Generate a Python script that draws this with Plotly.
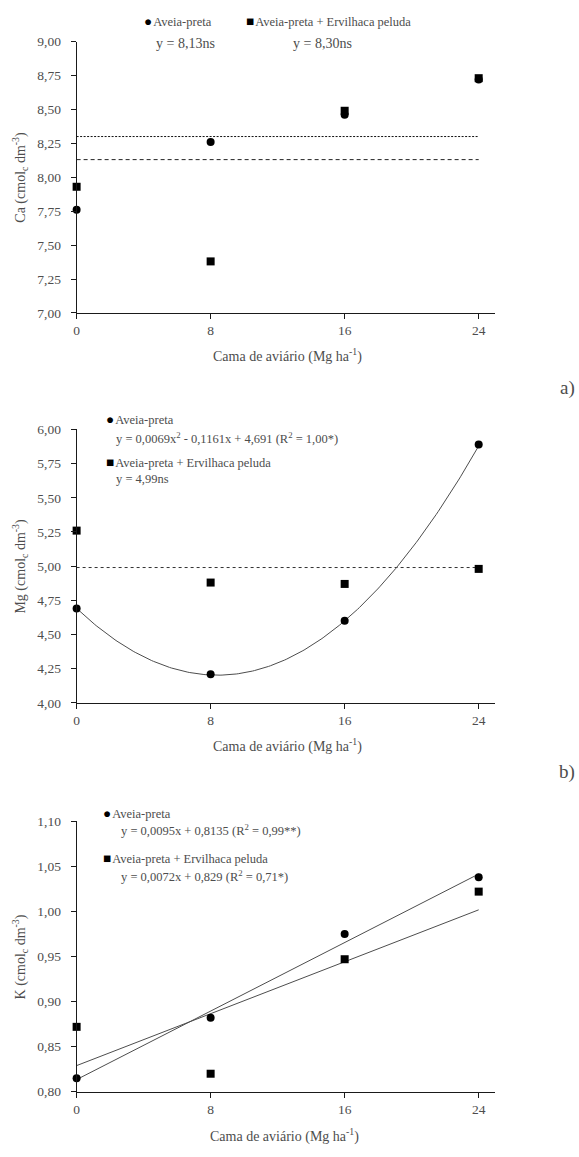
import numpy as np
import plotly.graph_objects as go

W, H = 579, 1157

doses = [0, 8, 16, 24]
x_ticks = [0, 8, 16, 24]

# Panel a - Ca
ca_aveia = [7.76, 8.26, 8.46, 8.72]
ca_consorcio = [7.93, 7.38, 8.49, 8.73]
ca_mean_aveia = 8.13
ca_mean_consorcio = 8.30
ca_ticks = [7.00, 7.25, 7.50, 7.75, 8.00, 8.25, 8.50, 8.75, 9.00]

# Panel b - Mg
mg_aveia = [4.69, 4.21, 4.60, 5.89]
mg_consorcio = [5.26, 4.88, 4.87, 4.98]
mg_coef_aveia = [0.0069, -0.1161, 4.691]
mg_mean_consorcio = 4.99
mg_ticks = [4.00, 4.25, 4.50, 4.75, 5.00, 5.25, 5.50, 5.75, 6.00]

# Panel c - K
k_aveia = [0.815, 0.882, 0.975, 1.038]
k_consorcio = [0.872, 0.820, 0.947, 1.022]
k_coef_aveia = [0.0095, 0.8135]
k_coef_consorcio = [0.0072, 0.829]
k_ticks = [0.80, 0.85, 0.90, 0.95, 1.00, 1.05, 1.10]

FONT = "Liberation Serif, DejaVu Serif, serif"
TXT = "#4d4d4d"
AX = "#1a1a1a"


def fmt(v, d=2):
    return f"{v:.{d}f}".replace(".", ",")


def px_x(p):
    return p / W


def px_y(p):
    return 1 - p / H


x_dom = [px_x(74), px_x(495)]
panels = [
    (px_y(310), px_y(35)),
    (px_y(705), px_y(428)),
    (px_y(1099), px_y(825)),
]

fig = go.Figure()

mk_c = dict(symbol="circle", size=8, color="black")
mk_s = dict(symbol="square", size=8, color="black")
fit_line = dict(color="#4d4d4d", width=1)


def pts(x, y, mk, ax):
    return go.Scatter(x=x, y=y, mode="markers", marker=mk, cliponaxis=False,
                      xaxis="x" + ax, yaxis="y" + ax)


# Panel a
fig.add_trace(go.Scatter(x=[0, 24], y=[ca_mean_consorcio] * 2, mode="lines",
                         line=dict(color="#111", width=1, dash="2px,1.5px"), xaxis="x", yaxis="y"))
fig.add_trace(go.Scatter(x=[0, 24], y=[ca_mean_aveia] * 2, mode="lines",
                         line=dict(color="#222", width=1, dash="4px,3px"), xaxis="x", yaxis="y"))
fig.add_trace(pts(doses, ca_aveia, mk_c, ""))
fig.add_trace(pts(doses, ca_consorcio, mk_s, ""))

# Panel b
xs = np.linspace(0, 24, 200)
a2, a1, a0 = mg_coef_aveia
fig.add_trace(go.Scatter(x=[0, 24], y=[mg_mean_consorcio] * 2, mode="lines",
                         line=dict(color="#333", width=1, dash="3px,3px"), xaxis="x2", yaxis="y2"))
fig.add_trace(go.Scatter(x=xs, y=a2 * xs ** 2 + a1 * xs + a0, mode="lines",
                         line=fit_line, xaxis="x2", yaxis="y2"))
fig.add_trace(pts(doses, mg_aveia, mk_c, "2"))
fig.add_trace(pts(doses, mg_consorcio, mk_s, "2"))

# Panel c
xl = np.array([0, 24])
fig.add_trace(go.Scatter(x=xl, y=k_coef_aveia[0] * xl + k_coef_aveia[1], mode="lines",
                         line=fit_line, xaxis="x3", yaxis="y3"))
fig.add_trace(go.Scatter(x=xl, y=k_coef_consorcio[0] * xl + k_coef_consorcio[1], mode="lines",
                         line=fit_line, xaxis="x3", yaxis="y3"))
fig.add_trace(pts(doses, k_aveia, mk_c, "3"))
fig.add_trace(pts(doses, k_consorcio, mk_s, "3"))

tickfont = dict(family=FONT, size=13.5, color=TXT)


def xaxis(anchor):
    return dict(domain=x_dom, anchor=anchor, range=[0, 25], tickvals=x_ticks,
                ticktext=[str(t) for t in x_ticks], showgrid=False, zeroline=False,
                showline=True, linecolor=AX, linewidth=1, ticks="outside", ticklen=5,
                tickcolor=AX, tickfont=tickfont, fixedrange=True)


def yaxis(anchor, dom, ticks, d=2):
    return dict(domain=list(dom), anchor=anchor, range=[ticks[0], ticks[-1]], tickvals=ticks,
                ticktext=[fmt(t, d) for t in ticks], showgrid=False, zeroline=False,
                showline=True, linecolor=AX, linewidth=1, ticks="outside", ticklen=5,
                tickcolor=AX, tickfont=tickfont, fixedrange=True, ticklabelstandoff=7)


ann = []


def text(xp, yp, s, size=12.5, xanchor="left"):
    ann.append(dict(x=px_x(xp), y=px_y(yp), xref="paper", yref="paper", text=s,
                    showarrow=False, xanchor=xanchor, yanchor="middle",
                    font=dict(family=FONT, size=size, color=TXT)))


def ytitle(yc, s):
    ann.append(dict(x=px_x(17), y=px_y(yc), xref="paper", yref="paper", text=s,
                    showarrow=False, textangle=-90, xanchor="center", yanchor="middle",
                    font=dict(family=FONT, size=14, color=TXT)))


def circ(s):
    return "<span style='font-size:13.5px;color:#000'>●</span>\u200a" + s


def sq(s):
    return "<span style='font-size:13.5px;color:#000'>■</span>\u200a" + s


xt = "Cama de aviário (Mg ha<sup>-1</sup>)"

# Panel a labels
text(140, 15, circ("Aveia-preta"))
text(242, 15, sq("Aveia-preta + Ervilhaca peluda"))
text(152, 37, "y = " + fmt(ca_mean_aveia) + "ns", 14)
text(290, 37, "y = " + fmt(ca_mean_consorcio) + "ns", 14)
text(286, 353, xt, 14, "center")
text(577, 386, "a)", 19, "right")
ytitle(172, "Ca (cmol<sub>c</sub> dm<sup>-3</sup>)")

# Panel b labels
text(102, 418, circ("Aveia-preta"))
text(112, 437, "y = 0,0069x<sup>2</sup> - 0,1161x + 4,691 (R<sup>2</sup> = 1,00*)")
text(102, 461, sq("Aveia-preta + Ervilhaca peluda"))
text(112, 478, "y = " + fmt(mg_mean_consorcio) + "ns")
text(286, 748, xt, 14, "center")
text(577, 775, "b)", 19, "right")
ytitle(566, "Mg (cmol<sub>c</sub> dm<sup>-3</sup>)")

# Panel c labels
text(99, 817, circ("Aveia-preta"))
text(117, 834, "y = 0,0095x + 0,8135 (R<sup>2</sup> = 0,99**)")
text(99, 863, sq("Aveia-preta + Ervilhaca peluda"))
text(117, 880, "y = 0,0072x + 0,829 (R<sup>2</sup> = 0,71*)")
text(283, 1143, xt, 14, "center")
ytitle(962, "K (cmol<sub>c</sub> dm<sup>-3</sup>)")

fig.update_layout(
    width=W, height=H, showlegend=False,
    margin=dict(l=0, r=0, t=0, b=0),
    paper_bgcolor="white", plot_bgcolor="white",
    xaxis=xaxis("y"),
    yaxis=yaxis("x", panels[0], ca_ticks),
    xaxis2=xaxis("y2"),
    yaxis2=yaxis("x2", panels[1], mg_ticks),
    xaxis3=xaxis("y3"),
    yaxis3=yaxis("x3", panels[2], k_ticks),
    annotations=ann,
)

fig.write_html(
    "out.html",
    config={"displayModeBar": False},
    post_script="document.body.style.margin='0';document.body.style.overflow='hidden';",
)
